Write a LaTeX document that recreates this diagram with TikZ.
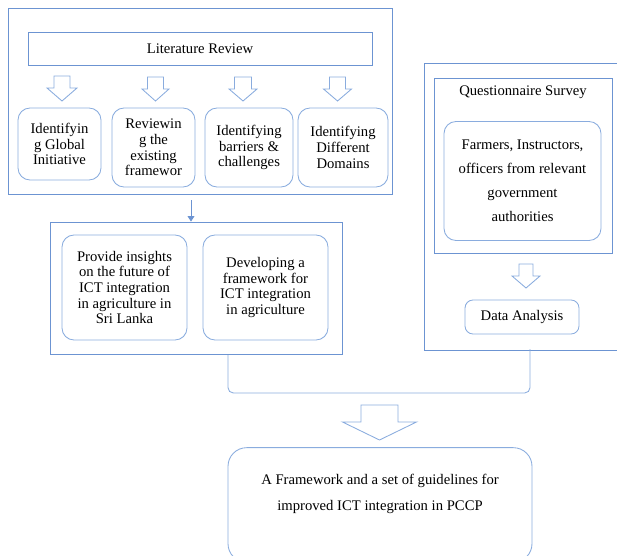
\documentclass[tikz,border=0pt]{standalone}
\usepackage{fontspec}
\setmainfont{Liberation Serif}
\usetikzlibrary{arrows.meta,positioning,calc}
\definecolor{frame}{RGB}{108,148,210}
\definecolor{soft}{RGB}{138,172,222}
% hollow block arrow: x, top, head base, tip, shaft half, head half
\newcommand{\hollowarrow}[6]{%
  \draw[soft,line width=0.65pt,line join=miter] (#1-#5,#2) -- (#1+#5,#2) -- (#1+#5,#3) -- (#1+#6,#3)
    -- (#1,#4) -- (#1-#6,#3) -- (#1-#5,#3) -- cycle;}

\begin{document}
\begin{tikzpicture}[x=0.75pt,y=-0.75pt,
  font=\fontsize{11}{11.8}\selectfont,
  box/.style={draw=frame,line width=0.65pt,inner sep=0pt,align=center},
  rbox/.style={draw=soft,line width=0.65pt,rounded corners=9pt,inner sep=2pt,align=center}]
  \clip (0,0) rectangle (617,556);

  % literature review part
  \node[box,minimum width=288pt,minimum height=139.5pt] (top) at (200,101) {};
  \node[box,minimum width=258pt,minimum height=24.75pt] (lit) at (200,48.5) {Literature Review};
  \hollowarrow{62}{76}{88}{101}{8}{15}
  \hollowarrow{155.5}{77}{89}{101}{8}{13.5}
  \hollowarrow{243}{77}{89}{101}{8.5}{14}
  \hollowarrow{337.5}{77}{89}{101}{8}{14}
  \node[rbox,minimum width=62.25pt,minimum height=54pt] (glob) at (59.5,144) {Identifyin\\g Global\\Initiative};
  \node[rbox,minimum width=62.25pt,minimum height=59.25pt] (frm) at (153.5,147.5) {Reviewin\\g the\\existing\\framewor};
  \node[rbox,minimum width=66pt,minimum height=59.25pt] (bar) at (249,147.5) {Identifying\\barriers \&\\challenges};
  \node[rbox,minimum width=67.5pt,minimum height=59.25pt] (dom) at (343,147.5) {Identifying\\Different\\Domains};

  % outcomes of the review
  \node[box,minimum width=219pt,minimum height=99pt] (mid) at (196,288) {};
  \node[rbox,minimum width=93.75pt,minimum height=78.75pt] (insight) at (124.5,287.5)
    {Provide insights\\on the future of\\ICT integration\\in agriculture in\\Sri Lanka};
  \node[rbox,minimum width=93.75pt,minimum height=78.75pt] (devel) at (265.5,287.5)
    {Developing a\\framework for\\ICT integration\\in agriculture};
  \coordinate (a1) at (191,200);
  \draw[frame,line width=0.65pt,-{Triangle[length=4pt,width=5pt]}] (a1) -- (a1 |- mid.north);

  % survey part
  \node[box,minimum width=145.5pt,minimum height=215.25pt] (survey) at (521,206.5) {};
  \node[box,minimum width=133.5pt,minimum height=131.25pt] (qs) at (523,165.5) {};
  \node (qtitle) at (523,92) {Questionnaire Survey};
  \node[rbox,minimum width=117.75pt,minimum height=89.25pt,
    execute at begin node=\setlength{\baselineskip}{18pt}] (people) at (522.5,181)
    {Farmers, Instructors,\\officers from relevant\\government\\authorities};
  \hollowarrow{526}{264}{276}{288}{7}{14}
  \node[rbox,rounded corners=6pt,minimum width=85.5pt,minimum height=25.5pt] (data) at (522,317) {Data Analysis};

  % joining bracket and result
  \coordinate (b1) at (228,355);
  \coordinate (b2) at (530,349);
  \draw[soft,line width=0.65pt,rounded corners=4pt] (b1) -- (b1 |- 0,393) -- (b2 |- 0,393) -- (b2);
  \hollowarrow{379.5}{405}{422}{440}{18.5}{37}
  \node[rbox,rounded corners=14pt,minimum width=228pt,minimum height=86pt] (result) at (380,505) {};
  \node[execute at begin node=\setlength{\baselineskip}{19pt},align=center] (restxt) at (380,494)
    {A Framework and a set of guidelines for\\improved ICT integration in PCCP};
\end{tikzpicture}
\end{document}
